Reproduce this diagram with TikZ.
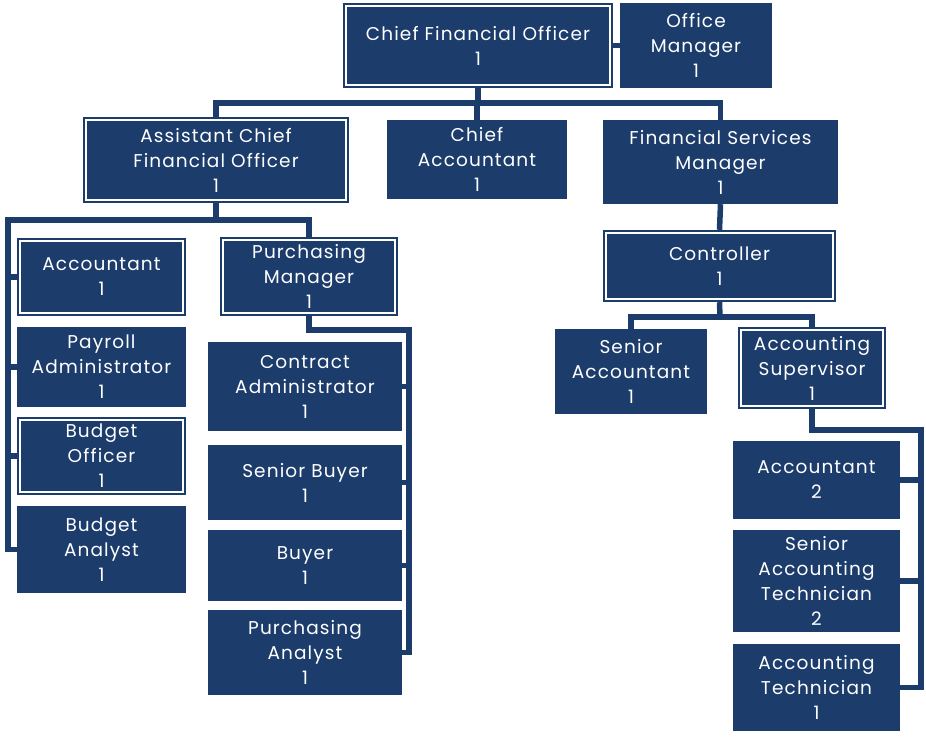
\documentclass[tikz,border=0pt]{standalone}
\usepackage{fontspec}
\setmainfont{Poppins}[LetterSpace=6]
\definecolor{navy}{RGB}{28,60,108}
\begin{document}
\begin{tikzpicture}[x=1pt,y=-1pt,
  box/.style={fill=navy, text=white, inner sep=0pt, align=center,
    font=\fontsize{18.5}{25}\selectfont},
  dbl/.style={box, path picture={\draw[white,line width=1.1pt]
    ([xshift=3pt,yshift=-3pt]path picture bounding box.north west) rectangle
    ([xshift=-3pt,yshift=3pt]path picture bounding box.south east);}},
  conn/.style={draw=navy, line width=5.5pt, line join=miter}]
\useasboundingbox (0,0) rectangle (926,736);
\newcommand{\bx}[7]{\node[#6, minimum width={(#4-#2)*1pt}, minimum height={(#5-#3)*1pt}]
  (#1) at ({(#2+#4)/2},{(#3+#5)/2}) {#7};}
% boxes
\bx{cfo}{343}{3}{613}{88}{dbl}{Chief Financial Officer\\1}
\bx{om}{620}{3}{772}{88}{box}{Office\\Manager\\1}
\bx{acfo}{83}{117}{349}{203}{dbl}{Assistant Chief\\Financial Officer\\1}
\bx{ca}{387}{120}{567}{199}{box}{Chief\\Accountant\\1}
\bx{fsm}{603}{120}{838}{204}{box}{Financial Services\\Manager\\1}
\bx{ctrl}{603}{230}{836}{302}{dbl}{Controller\\1}
\bx{sa}{555}{329}{707}{414}{box}{Senior\\Accountant\\1}
\bx{asup}{738}{327}{886}{409}{dbl}{Accounting\\Supervisor\\1}
\bx{acc2}{733}{441}{900}{519}{box}{Accountant\\2}
\bx{sat}{733}{530}{900}{632}{box}{Senior\\Accounting\\Technician\\2}
\bx{at}{733}{644}{900}{731}{box}{Accounting\\Technician\\1}
\bx{acct}{17}{238}{186}{316}{dbl}{Accountant\\1}
\bx{pay}{17}{327}{186}{407}{box}{Payroll\\Administrator\\1}
\bx{bo}{17}{417}{186}{495}{dbl}{Budget\\Officer\\1}
\bx{ba}{17}{506}{186}{593}{box}{Budget\\Analyst\\1}
\bx{pm}{220}{237}{398}{316}{dbl}{Purchasing\\Manager\\1}
\bx{cadm}{208}{342}{402}{431}{box}{Contract\\Administrator\\1}
\bx{sb}{208}{445}{402}{520}{box}{Senior Buyer\\1}
\bx{buy}{208}{530}{402}{601}{box}{Buyer\\1}
\bx{pa}{208}{610}{402}{695}{box}{Purchasing\\Analyst\\1}
% bar coordinates
\coordinate (bar) at (478,103);
\coordinate (lbar) at (8,220);
\coordinate (pbar) at (409,330);
\coordinate (cbar) at (720,317);
\coordinate (rbar) at (921,430);
% connectors
\draw[conn] (cfo.east) -- (om.west);
\draw[conn] (cfo.south) -- (bar);
\draw[conn] (acfo.north) |- (bar) -| (fsm.north);
\draw[conn] (ca.north) -- (ca.north |- bar);
\draw[conn] (acfo.south) -- (acfo.south |- lbar);
\draw[conn] (pm.north) |- (lbar) |- (ba.west);
\draw[conn] (acct.west) -- (acct.west -| lbar);
\draw[conn] (pay.west) -- (pay.west -| lbar);
\draw[conn] (bo.west) -- (bo.west -| lbar);
\draw[conn] (pm.south) |- (pbar) |- (pa.east);
\draw[conn] (cadm.east) -- (cadm.east -| pbar);
\draw[conn] (sb.east) -- (sb.east -| pbar);
\draw[conn] (buy.east) -- (buy.east -| pbar);
\draw[conn] (fsm.south) -- (ctrl.north);
\draw[conn] (ctrl.south) -- (cbar);
\draw[conn] (sa.north) |- (cbar) -| (asup.north);
\draw[conn] (asup.south) |- (rbar) |- (at.east);
\draw[conn] (acc2.east) -- (acc2.east -| rbar);
\draw[conn] (sat.east) -- (sat.east -| rbar);
\end{tikzpicture}
\end{document}
